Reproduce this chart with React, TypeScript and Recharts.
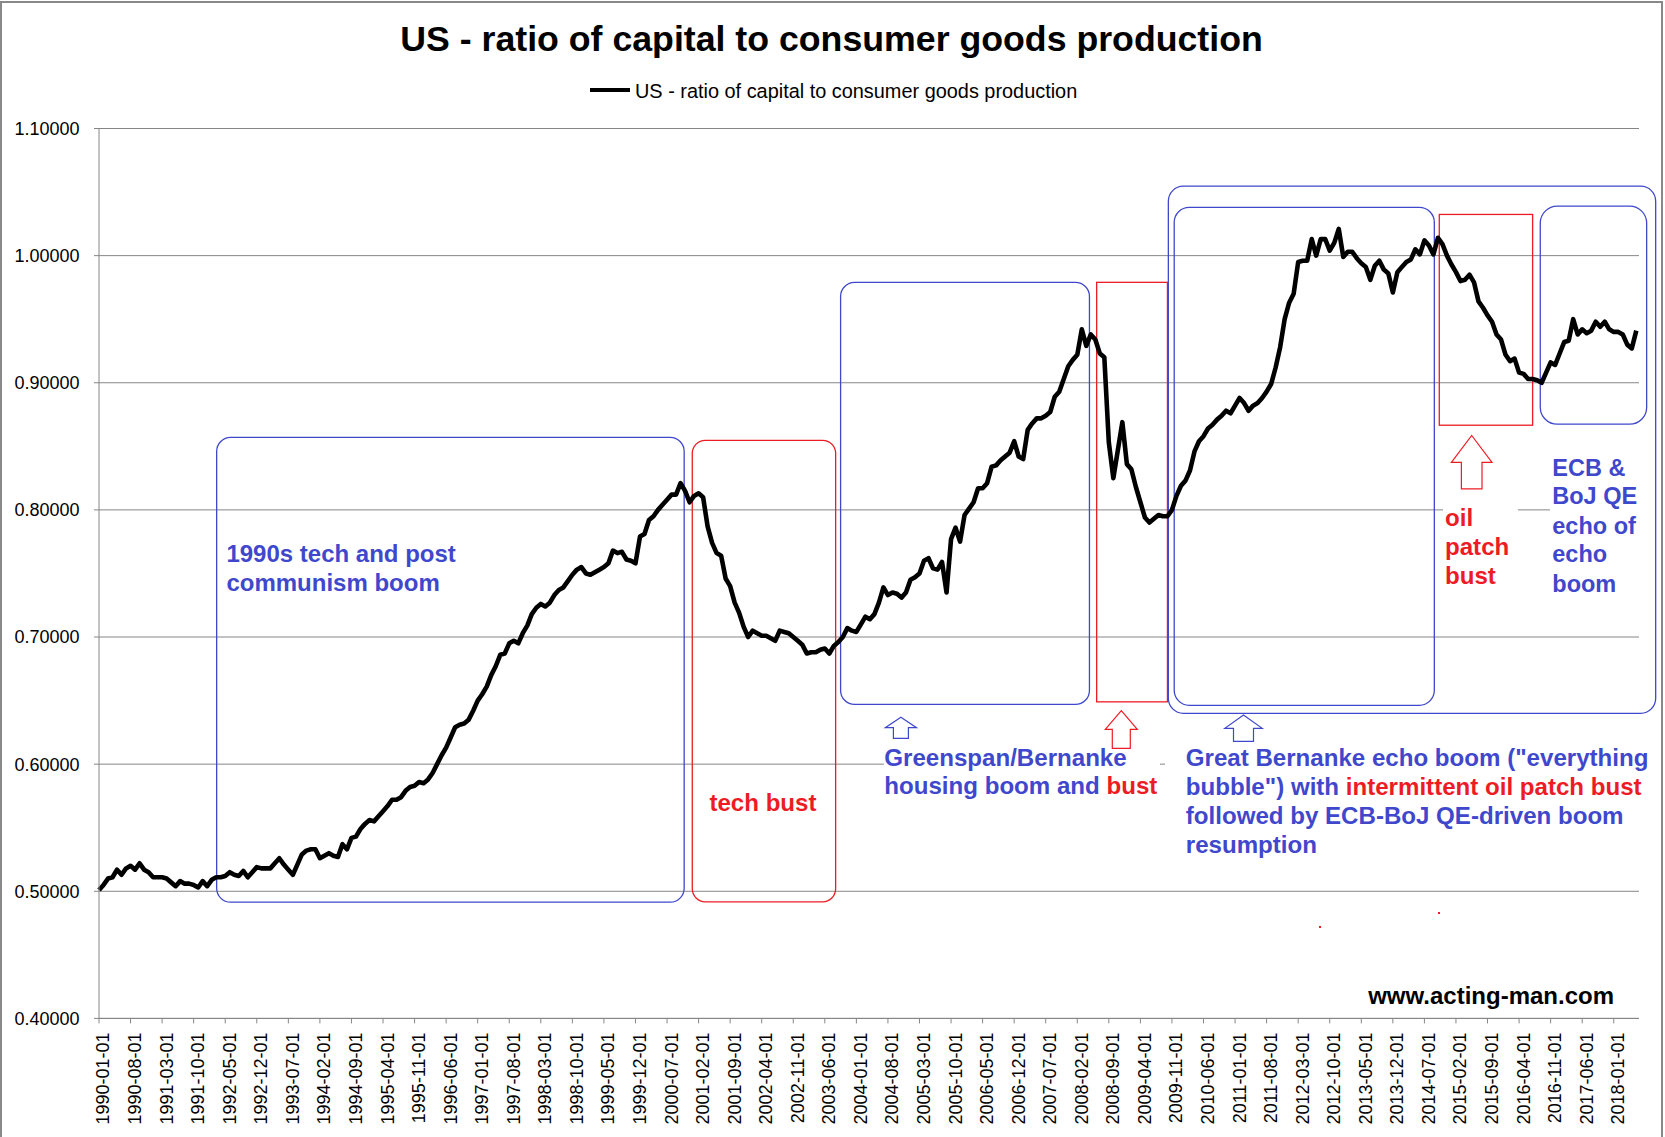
import React from "react";
import { LineChart, Line, XAxis, YAxis, CartesianGrid, ReferenceArea } from "recharts";

const FONT = '"Liberation Sans", Arial, Helvetica, sans-serif';
const BLUE = "#3F48CC";
const RED = "#ED1C24";
const GRID = "#868686";

// Monthly values, 1990-01 .. 2018-06
const values1990to1994 = [
  0.501, 0.505, 0.510, 0.511, 0.517, 0.513, 0.518, 0.520, 0.517, 0.522,
  0.517, 0.515, 0.511, 0.511, 0.511, 0.510, 0.507, 0.504, 0.508, 0.506,
  0.506, 0.505, 0.503, 0.508, 0.504, 0.509, 0.511, 0.511, 0.512, 0.515,
  0.513, 0.512, 0.516, 0.511, 0.515, 0.519, 0.518, 0.518, 0.518, 0.522,
  0.526, 0.521, 0.517, 0.513, 0.521, 0.529, 0.532, 0.533, 0.533, 0.526,
  0.528, 0.530, 0.528, 0.527, 0.537, 0.533, 0.542,
];
const values1994to1997 = [
  0.543, 0.549, 0.553, 0.556, 0.555, 0.559, 0.563, 0.567, 0.572, 0.572,
  0.574, 0.579, 0.582, 0.583, 0.586, 0.585, 0.588, 0.593, 0.600, 0.607,
  0.613, 0.621, 0.629, 0.631, 0.632, 0.635, 0.642, 0.650, 0.655, 0.661,
  0.670, 0.677, 0.686, 0.687, 0.695, 0.697, 0.695, 0.703, 0.709,
];
const values1998to2001 = [
  0.718, 0.723, 0.726, 0.724, 0.727, 0.733, 0.737, 0.739, 0.744, 0.749,
  0.753, 0.755, 0.750, 0.749, 0.751, 0.753, 0.755, 0.758, 0.768, 0.766,
  0.767, 0.761, 0.760, 0.758, 0.779, 0.781, 0.792, 0.795, 0.800, 0.804,
  0.808, 0.812, 0.812, 0.821, 0.815, 0.806, 0.811, 0.813,
];
const values2001to2009 = [
  0.810, 0.787, 0.774, 0.766, 0.764, 0.746, 0.740, 0.727, 0.719, 0.708,
  0.700, 0.705, 0.703, 0.701, 0.701, 0.699, 0.697, 0.705, 0.704, 0.703,
  0.700, 0.697, 0.694, 0.687, 0.688, 0.688, 0.690, 0.691, 0.687, 0.693,
  0.696, 0.700, 0.707, 0.705, 0.704, 0.710, 0.716, 0.714, 0.718, 0.727,
  0.739, 0.733, 0.735, 0.734, 0.731, 0.735, 0.745, 0.747, 0.750, 0.760,
  0.762, 0.754, 0.753, 0.759, 0.735, 0.777, 0.786, 0.775, 0.796, 0.801,
  0.806, 0.817, 0.817, 0.821, 0.834, 0.835, 0.839, 0.842, 0.845, 0.854,
  0.842, 0.840, 0.863, 0.868, 0.872, 0.872, 0.874, 0.877, 0.889, 0.893,
  0.903, 0.913, 0.918, 0.922, 0.942, 0.929, 0.938, 0.934, 0.923, 0.920,
  0.853, 0.825, 0.847, 0.869, 0.836, 0.832, 0.818, 0.806, 0.794, 0.790,
  0.793, 0.796, 0.795, 0.795,
];
const values2009to2018 = [
  0.800, 0.811, 0.819, 0.823, 0.831, 0.846, 0.854, 0.858, 0.864, 0.867,
  0.871, 0.874, 0.878, 0.876, 0.882, 0.888, 0.884, 0.878, 0.882, 0.884,
  0.888, 0.893, 0.899, 0.912, 0.928, 0.950, 0.963, 0.970, 0.995, 0.996,
  0.996, 1.013, 1.000, 1.013, 1.013, 1.004, 1.010, 1.021, 0.999, 1.003,
  1.003, 0.998, 0.994, 0.991, 0.981, 0.992, 0.996, 0.989, 0.986, 0.971,
  0.987, 0.991, 0.995, 0.997, 1.005, 1.001, 1.012, 1.008, 1.001, 1.014,
  1.009, 1.000, 0.993, 0.987, 0.980, 0.981, 0.985, 0.979, 0.964, 0.959,
  0.953, 0.948, 0.938, 0.934, 0.922, 0.917, 0.919, 0.908, 0.907, 0.903,
  0.903, 0.902, 0.900, 0.908, 0.916, 0.914, 0.923, 0.932, 0.933, 0.950,
  0.938, 0.942, 0.939, 0.941, 0.948, 0.944, 0.948, 0.942, 0.940, 0.940,
  0.938, 0.930, 0.927, 0.941,
];

const values = [
  ...values1990to1994,
  ...values1994to1997,
  ...values1998to2001,
  ...values2001to2009,
  ...values2009to2018,
];

const tickLabels = [
  "1990-01-01", "1990-08-01", "1991-03-01", "1991-10-01", "1992-05-01", "1992-12-01",
  "1993-07-01", "1994-02-01", "1994-09-01", "1995-04-01", "1995-11-01", "1996-06-01",
  "1997-01-01", "1997-08-01", "1998-03-01", "1998-10-01", "1999-05-01", "1999-12-01",
  "2000-07-01", "2001-02-01", "2001-09-01", "2002-04-01", "2002-11-01", "2003-06-01",
  "2004-01-01", "2004-08-01", "2005-03-01", "2005-10-01", "2006-05-01", "2006-12-01",
  "2007-07-01", "2008-02-01", "2008-09-01", "2009-04-01", "2009-11-01", "2010-06-01",
  "2011-01-01", "2011-08-01", "2012-03-01", "2012-10-01", "2013-05-01", "2013-12-01",
  "2014-07-01", "2015-02-01", "2015-09-01", "2016-04-01", "2016-11-01", "2017-06-01",
  "2018-01-01",
];
const tickStep = 7;
const yTicks = [0.4, 0.5, 0.6, 0.7, 0.8, 0.9, 1.0, 1.1];

const seriesName = "US - ratio of capital to consumer goods production";

const data = values.map((v, i) => ({ i, v }));
const xTicks = tickLabels.map((_, k) => k * tickStep);

// annotation boxes in data coordinates (month index, ratio)
const boxes = [
  { x1: 26.1, x2: 129.8, y1: 0.4914, y2: 0.857, color: BLUE, r: 14 },
  { x1: 131.6, x2: 163.4, y1: 0.4917, y2: 0.8547, color: RED, r: 13 },
  { x1: 164.5, x2: 219.7, y1: 0.647, y2: 0.979, color: BLUE, r: 14 },
  { x1: 221.3, x2: 237.0, y1: 0.649, y2: 0.979, color: RED, r: 0 },
  { x1: 237.2, x2: 345.3, y1: 0.640, y2: 1.0546, color: BLUE, r: 15 },
  { x1: 238.5, x2: 296.2, y1: 0.6463, y2: 1.038, color: BLUE, r: 15 },
  { x1: 297.3, x2: 318.0, y1: 0.8666, y2: 1.0324, color: RED, r: 0 },
  { x1: 319.7, x2: 343.3, y1: 0.8674, y2: 1.0389, color: BLUE, r: 17 },
];

const XTick = (props: any) => {
  const { x, y, payload } = props;
  const label = tickLabels[Math.round(payload.value / tickStep)];
  return (
    <text
      x={x}
      y={y}
      dy={10.5}
      transform={`rotate(-90 ${x} ${y})`}
      textAnchor="end"
      fontSize={18}
      fontFamily={FONT}
      fill="#000"
    >
      {label}
    </text>
  );
};

const arrow = (tx: number, ty: number, hw: number, hy: number, sw: number, by: number) =>
  `${tx},${ty} ${tx + hw},${hy} ${tx + sw},${hy} ${tx + sw},${by} ${tx - sw},${by} ${tx - sw},${hy} ${tx - hw},${hy}`;

export default function App() {
  return (
    <div style={{ position: "absolute", left: 0, top: 0, width: 1665, height: 1137, background: "#fff", overflow: "hidden" }}>
      <LineChart
        width={1665}
        height={1137}
        data={data}
        margin={{ top: 128.5, right: 26, bottom: 8.6, left: 0 }}
      >
        <CartesianGrid vertical={false} stroke={GRID} strokeWidth={1} />
        <XAxis
          dataKey="i"
          type="number"
          domain={[0, 341.6]}
          ticks={xTicks}
          interval={0}
          height={110}
          tickSize={5}
          tickMargin={9}
          tick={<XTick />}
          axisLine={{ stroke: GRID }}
          tickLine={{ stroke: GRID }}
        />
        <YAxis
          type="number"
          domain={[0.4, 1.1]}
          ticks={yTicks}
          interval={0}
          width={99}
          tickSize={5}
          tickMargin={14.4}
          tickFormatter={(v: number) => v.toFixed(5)}
          tick={{ fill: "#000", fontSize: 18, fontFamily: FONT }}
          axisLine={{ stroke: GRID }}
          tickLine={{ stroke: GRID }}
          allowDataOverflow
        />
        <Line
          type="linear"
          dataKey="v"
          name={seriesName}
          stroke="#000"
          strokeWidth={4.6}
          strokeLinejoin="round"
          dot={false}
          activeDot={false}
          isAnimationActive={false}
        />
        {boxes.map((b, k) => (
          <ReferenceArea
            key={k}
            x1={b.x1}
            x2={b.x2}
            y1={b.y1}
            y2={b.y2}
            ifOverflow="visible"
            shape={(p: any) => (
              <rect
                x={p.x}
                y={p.y}
                width={p.width}
                height={p.height}
                rx={b.r}
                ry={b.r}
                fill="none"
                stroke={b.color}
                strokeWidth={1.3}
              />
            )}
          />
        ))}
      </LineChart>
      <svg
        width={1665}
        height={1137}
        style={{ position: "absolute", left: 0, top: 0, pointerEvents: "none" }}
        fontFamily={FONT}
      >
        <rect x={1} y={2} width={1661} height={1200} fill="none" stroke="#888" strokeWidth={2} />
        <text x={831.5} y={51} textAnchor="middle" fontSize={35.7} fontWeight="bold" fill="#000">
          {seriesName}
        </text>
        <line x1={590} x2={630} y1={90} y2={90} stroke="#000" strokeWidth={4} />
        <text x={635} y={98} fontSize={19.9} fill="#000">{seriesName}</text>

        {/* white backgrounds of the annotation texts */}
        <rect x={884} y={745} width={276} height={55} fill="#fff" />
        <rect x={1165} y={745} width={485} height={115} fill="#fff" />
        <rect x={1443} y={494} width={75} height={96} fill="#fff" />
        <rect x={1550} y={450} width={100} height={150} fill="#fff" />

        <g fontWeight="bold" fontSize={24} fill={BLUE}>
          <text x={226.4} y={561.7}>1990s tech and post</text>
          <text x={226.4} y={590.7}>communism boom</text>
        </g>
        <g fontWeight="bold" fontSize={24.1}>
          <text x={709.4} y={811} fill={RED}>tech bust</text>
          <text x={884.3} y={766} fill={BLUE}>Greenspan/Bernanke</text>
          <text x={884.3} y={794.3} fill={BLUE}>
            housing boom and <tspan fill={RED}>bust</tspan>
          </text>
          <text x={1185.8} y={766} fill={BLUE}>Great Bernanke echo boom ("everything</text>
          <text x={1185.8} y={795} fill={BLUE}>
            bubble") with <tspan fill={RED}>intermittent oil patch bust</tspan>
          </text>
          <text x={1185.8} y={824} fill={BLUE}>followed by ECB-BoJ QE-driven boom</text>
          <text x={1185.8} y={852.7} fill={BLUE}>resumption</text>
          <text x={1445} y={526} fill={RED}>oil</text>
          <text x={1445} y={555.3} fill={RED}>patch</text>
          <text x={1445} y={583.6} fill={RED}>bust</text>
        </g>
        <g fontWeight="bold" fontSize={23.5} fill={BLUE}>
          <text x={1552.3} y={475.5}>ECB &amp;</text>
          <text x={1552.3} y={504.4}>BoJ QE</text>
          <text x={1552.3} y={533.6}>echo of</text>
          <text x={1552.3} y={562.2}>echo</text>
          <text x={1552.3} y={591.5}>boom</text>
        </g>
        <text x={1614} y={1004} textAnchor="end" fontWeight="bold" fontSize={24} fill="#000">
          www.acting-man.com
        </text>

        <polygon points={arrow(900.9, 717.3, 15.6, 727.7, 7.5, 738.3)} fill="#fff" stroke={BLUE} strokeWidth={1.2} />
        <polygon points={arrow(1121.3, 710.7, 16, 729.3, 9, 748.3)} fill="#fff" stroke={RED} strokeWidth={1.2} />
        <polygon points={arrow(1243.5, 715, 18.7, 728.3, 10, 741.3)} fill="#fff" stroke={BLUE} strokeWidth={1.2} />
        <polygon points={arrow(1471.7, 435.5, 20.3, 462.4, 10.3, 488.9)} fill="#fff" stroke={RED} strokeWidth={1.2} />

        <rect x={1319} y={926} width={2} height={2} fill={RED} />
        <rect x={1438} y={912} width={2} height={2} fill={RED} />
      </svg>
    </div>
  );
}
